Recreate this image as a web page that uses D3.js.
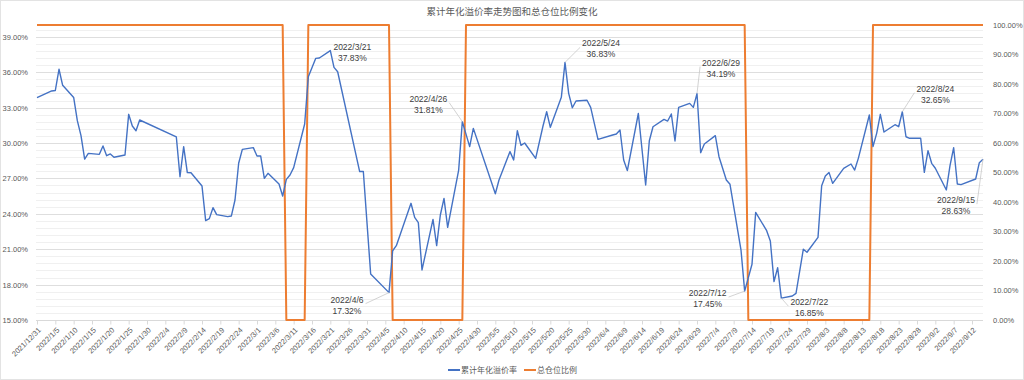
<!DOCTYPE html>
<html>
<head>
<meta charset="utf-8">
<script src="https://cdn.jsdelivr.net/npm/d3@7"></script>
<style>
  body { margin: 0; background: #fff; }
  svg { display: block; font-family: "Noto Sans CJK SC", "Noto Sans", sans-serif; }
</style>
</head>
<body>
<div id="chart"></div>
<script>
// chart data
var title = "累计年化溢价率走势图和总仓位比例变化";
var seriesNames = ["累计年化溢价率", "总仓位比例"];

// accumulated annualised premium rate (%), one entry per readable trading day
var premiumDates = [
  "2021-12-31", "2022-01-04", "2022-01-05", "2022-01-06", "2022-01-07", "2022-01-10", "2022-01-11",
  "2022-01-12", "2022-01-13", "2022-01-14", "2022-01-17", "2022-01-18", "2022-01-19", "2022-01-20",
  "2022-01-21", "2022-01-24", "2022-01-25", "2022-01-26", "2022-01-27", "2022-01-28", "2022-02-07",
  "2022-02-08", "2022-02-09", "2022-02-10", "2022-02-11", "2022-02-14", "2022-02-15", "2022-02-16",
  "2022-02-17", "2022-02-18", "2022-02-21", "2022-02-22", "2022-02-23", "2022-02-24", "2022-02-25",
  "2022-02-28", "2022-03-01", "2022-03-02", "2022-03-03", "2022-03-04", "2022-03-07", "2022-03-08",
  "2022-03-09", "2022-03-10", "2022-03-11", "2022-03-14", "2022-03-15", "2022-03-17", "2022-03-18",
  "2022-03-21", "2022-03-22", "2022-03-23", "2022-03-29", "2022-03-30", "2022-04-01", "2022-04-06",
  "2022-04-07", "2022-04-08", "2022-04-12", "2022-04-13", "2022-04-14", "2022-04-15", "2022-04-18",
  "2022-04-19", "2022-04-20", "2022-04-21", "2022-04-22", "2022-04-25", "2022-04-26", "2022-04-28",
  "2022-04-29", "2022-05-05", "2022-05-06", "2022-05-09", "2022-05-10", "2022-05-11", "2022-05-12",
  "2022-05-13", "2022-05-16", "2022-05-18", "2022-05-19", "2022-05-20", "2022-05-23", "2022-05-24",
  "2022-05-25", "2022-05-26", "2022-05-27", "2022-05-30", "2022-05-31", "2022-06-02", "2022-06-06",
  "2022-06-07", "2022-06-08", "2022-06-09", "2022-06-10", "2022-06-13", "2022-06-15", "2022-06-16",
  "2022-06-17", "2022-06-20", "2022-06-21", "2022-06-22", "2022-06-23", "2022-06-24", "2022-06-27",
  "2022-06-28", "2022-06-29", "2022-06-30", "2022-07-01", "2022-07-04", "2022-07-05", "2022-07-07",
  "2022-07-08", "2022-07-11", "2022-07-12", "2022-07-14", "2022-07-15", "2022-07-18", "2022-07-19",
  "2022-07-20", "2022-07-21", "2022-07-22", "2022-07-25", "2022-07-26", "2022-07-28", "2022-07-29",
  "2022-08-01", "2022-08-02", "2022-08-03", "2022-08-04", "2022-08-05", "2022-08-08", "2022-08-10",
  "2022-08-11", "2022-08-12", "2022-08-15", "2022-08-16", "2022-08-17", "2022-08-18", "2022-08-19",
  "2022-08-22", "2022-08-23", "2022-08-24", "2022-08-25", "2022-08-26", "2022-08-29", "2022-08-30",
  "2022-08-31", "2022-09-01", "2022-09-02", "2022-09-05", "2022-09-06", "2022-09-07", "2022-09-08",
  "2022-09-09", "2022-09-13", "2022-09-14", "2022-09-15"
];
var premiumValues = [
  33.84, 34.41, 34.45, 36.25, 34.89, 33.86, 31.89,
  30.62, 28.64, 29.12, 29.04, 29.75, 28.92, 29.07,
  28.79, 28.98, 32.43, 31.44, 31.04, 31.95, 30.51,
  27.14, 29.69, 27.49, 27.48, 26.36, 23.42, 23.59,
  24.52, 23.93, 23.76, 23.81, 25.17, 28.28, 29.46,
  29.61, 28.90, 28.90, 27.00, 27.43, 26.53, 25.51,
  26.92, 27.29, 27.91, 31.61, 35.62, 37.17, 37.20,
  37.83, 36.41, 36.04, 27.58, 27.58, 18.90, 17.32,
  20.87, 21.30, 24.89, 23.70, 23.25, 19.24, 23.53,
  21.30, 23.90, 25.30, 22.85, 27.71, 31.81, 29.69,
  31.24, 25.70, 26.86, 29.27, 28.56, 31.04, 29.80,
  30.00, 28.70, 31.44, 32.65, 31.33, 33.87, 36.83,
  34.21, 32.99, 33.56, 33.62, 33.02, 30.31, 30.68,
  30.76, 31.10, 28.56, 27.66, 32.50, 26.44, 30.19,
  31.38, 32.00, 31.86, 32.46, 30.17, 33.02, 33.36,
  33.02, 34.19, 29.18, 29.92, 30.62, 28.84, 26.86,
  26.50, 20.93, 17.45, 19.72, 24.12, 22.57, 21.69,
  18.25, 19.43, 16.85, 17.03, 17.26, 21.00, 20.74,
  22.00, 26.38, 27.20, 27.51, 26.58, 27.85, 28.22,
  27.71, 28.70, 32.37, 29.69, 30.82, 32.43, 30.93,
  31.55, 31.38, 32.65, 30.53, 30.40, 30.40, 27.51,
  29.35, 28.28, 27.86, 26.02, 28.08, 29.60, 26.53,
  26.47, 26.95, 28.33, 28.63
];

// total position ratio, at the days where it switches
var positionDates = [
  "2021-12-31", "2022-03-08", "2022-03-09", "2022-03-14", "2022-03-15", "2022-04-06", "2022-04-07",
  "2022-04-26", "2022-04-27", "2022-07-12", "2022-07-13", "2022-08-15", "2022-08-16", "2022-09-15"
];
var positionValues = [1, 1, 0, 0, 1, 1, 0, 0, 1, 1, 0, 0, 1, 1];

// days with a data label
var labelDates = [
  "2022-03-21", "2022-04-06", "2022-04-26", "2022-05-24", "2022-06-29",
  "2022-07-12", "2022-07-22", "2022-08-24", "2022-09-15"
];

// axis ticks
var leftTicks = [15, 18, 21, 24, 27, 30, 33, 36, 39];
var rightTicks = [0, 0.1, 0.2, 0.3, 0.4, 0.5, 0.6, 0.7, 0.8, 0.9, 1];
var xTickStep = 5;

// layout
var width = 1024, height = 380;
var plot = {left: 36, right: 983, top: 25, bottom: 320};
var blue = "#4472C4", orange = "#ED7D31", textColor = "#595959";
var latinFont = "'Liberation Sans', Arial, sans-serif";

var parse = d3.timeParse("%Y-%m-%d");
var fmtDate = d3.timeFormat("%Y/%-m/%-d");

var premium = premiumDates.map(function(d, i) {
    return {date: parse(d), value: premiumValues[i]};
});
var position = positionDates.map(function(d, i) {
    return {date: parse(d), value: positionValues[i]};
});

var start = parse(premiumDates[0]),
    end = parse(premiumDates[premiumDates.length - 1]);

// scales
var x = d3.scaleTime().domain([start, end]).range([plot.left + 1, plot.right]);
var yLeft = d3.scaleLinear().domain([15, 40]).range([plot.bottom, plot.top]);
var yRight = d3.scaleLinear().domain([0, 1]).range([plot.bottom, plot.top]);

var svg = d3.select("#chart").append("svg")
    .attr("width", width)
    .attr("height", height);

svg.append("rect")
    .attr("x", 0.5).attr("y", 0.5)
    .attr("width", width - 1).attr("height", height - 1)
    .attr("fill", "#fff")
    .attr("stroke", "#e3e3e3");

// title
svg.append("text")
    .attr("x", width / 2)
    .attr("y", 14.5)
    .attr("text-anchor", "middle")
    .attr("font-size", 9.5)
    .attr("fill", textColor)
    .text(title);

// minor gridlines every 0.6%
var minor = d3.range(15.6, 40.01, 0.6).filter(function(v) {
    return Math.abs((v - 15) / 3 - Math.round((v - 15) / 3)) > 0.01;
});
svg.append("g").selectAll("line")
    .data(minor)
    .join("line")
    .attr("x1", plot.left).attr("x2", plot.right)
    .attr("y1", function(d) { return Math.round(yLeft(d)) + 0.5; })
    .attr("y2", function(d) { return Math.round(yLeft(d)) + 0.5; })
    .attr("stroke", "#f0f0f0")
    .attr("stroke-width", 1);

// major gridlines
svg.append("g").selectAll("line")
    .data(leftTicks.slice(1))
    .join("line")
    .attr("x1", plot.left).attr("x2", plot.right)
    .attr("y1", function(d) { return Math.round(yLeft(d)) + 0.5; })
    .attr("y2", function(d) { return Math.round(yLeft(d)) + 0.5; })
    .attr("stroke", "#dedede")
    .attr("stroke-width", 1);

// left axis
var leftAxis = svg.append("g")
    .attr("transform", "translate(" + (plot.left - 5) + ",0)")
    .call(d3.axisLeft(yLeft)
        .tickValues(leftTicks)
        .tickSize(0)
        .tickFormat(function(d) { return d3.format(".2f")(d) + "%"; }));
leftAxis.select(".domain").remove();
leftAxis.selectAll("text")
    .attr("font-size", 7.5)
    .attr("font-family", latinFont)
    .attr("fill", textColor);

// right axis
var rightAxis = svg.append("g")
    .attr("transform", "translate(" + (plot.right + 7) + ",0)")
    .call(d3.axisRight(yRight)
        .tickValues(rightTicks)
        .tickSize(0)
        .tickFormat(d3.format(".2%")));
rightAxis.select(".domain").remove();
rightAxis.selectAll("text")
    .attr("font-size", 7.5)
    .attr("font-family", latinFont)
    .attr("fill", textColor);

// x axis, date ticks every 5 days
var xTicks = d3.timeDay.range(start, d3.timeDay.offset(end, 1), 1)
    .filter(function(d, i) { return i % xTickStep === 0; });
var xAxis = svg.append("g")
    .attr("transform", "translate(0," + (plot.bottom + 0.5) + ")")
    .call(d3.axisBottom(x)
        .tickValues(xTicks)
        .tickSize(4)
        .tickSizeOuter(0)
        .tickFormat(fmtDate));
xAxis.select(".domain")
    .attr("d", "M" + plot.left + ",0H" + plot.right)
    .attr("stroke", "#d9d9d9");
xAxis.selectAll(".tick line").attr("stroke", "#d9d9d9");
xAxis.selectAll("text")
    .attr("font-size", 7.5)
    .attr("font-family", latinFont)
    .attr("fill", textColor)
    .attr("text-anchor", "end")
    .attr("y", 0)
    .attr("dy", 0)
    .attr("transform", "translate(4,10) rotate(-45)");

// position line (secondary axis)
var positionLine = d3.line()
    .x(function(d) { return x(d.date); })
    .y(function(d) { return yRight(d.value); });
svg.append("path")
    .datum(position)
    .attr("d", positionLine)
    .attr("fill", "none")
    .attr("stroke", orange)
    .attr("stroke-width", 2)
    .attr("stroke-linejoin", "round");

// premium line
var premiumLine = d3.line()
    .x(function(d) { return x(d.date); })
    .y(function(d) { return yLeft(d.value); });
svg.append("path")
    .datum(premium)
    .attr("d", premiumLine)
    .attr("fill", "none")
    .attr("stroke", blue)
    .attr("stroke-width", 1.4)
    .attr("stroke-linejoin", "round");

// data labels: offset of label centre from the point, and whether a leader line is drawn
var labelOffsets = {
    "2022-03-21": [22, 1, false],
    "2022-04-06": [-42, 12, true],
    "2022-04-26": [-34, -18, true],
    "2022-05-24": [36, -14, true],
    "2022-06-29": [24, -26, true],
    "2022-07-12": [-37, 7, true],
    "2022-07-22": [28, 9, true],
    "2022-08-24": [33, -18, true],
    "2022-09-15": [-27, 46, true]
};

var labels = svg.append("g");
labelDates.forEach(function(key) {
    var d = premium.find(function(p) { return fmtDate(p.date) === fmtDate(parse(key)); });
    var px = x(d.date), py = yLeft(d.value);
    var off = labelOffsets[key];
    var cx = px + off[0], cy = py + off[1];

    var g = labels.append("g");
    var t1 = g.append("text")
        .attr("x", cx).attr("y", cy - 2)
        .attr("text-anchor", "middle")
        .attr("font-size", 8.5)
        .attr("font-family", latinFont)
        .attr("fill", "#404040")
        .text(fmtDate(d.date));
    g.append("text")
        .attr("x", cx).attr("y", cy + 9)
        .attr("text-anchor", "middle")
        .attr("font-size", 8.5)
        .attr("font-family", latinFont)
        .attr("fill", "#404040")
        .text(d3.format(".2f")(d.value) + "%");

    // leader line from the label edge to the point
    if (off[2]) {
        var half = t1.node().getComputedTextLength() / 2 + 2;
        var sx = off[0] < 0 ? cx + half : cx - half;
        g.insert("path", "text")
            .attr("d", "M" + sx + "," + (cy - 1) + "L" + px + "," + py)
            .attr("fill", "none")
            .attr("stroke", "#c8c8c8")
            .attr("stroke-width", 0.8);
    }
});

// legend
var legend = svg.append("g").attr("transform", "translate(448,370)");
var legendX = [0, 76];
seriesNames.forEach(function(name, i) {
    var lg = legend.append("g").attr("transform", "translate(" + legendX[i] + ",0)");
    lg.append("line")
        .attr("x1", 0).attr("x2", 12)
        .attr("y1", 0).attr("y2", 0)
        .attr("stroke", i === 0 ? blue : orange)
        .attr("stroke-width", 2);
    lg.append("text")
        .attr("x", 13)
        .attr("y", 3)
        .attr("font-size", 8)
        .attr("fill", textColor)
        .text(name);
});
</script>
</body>
</html>
